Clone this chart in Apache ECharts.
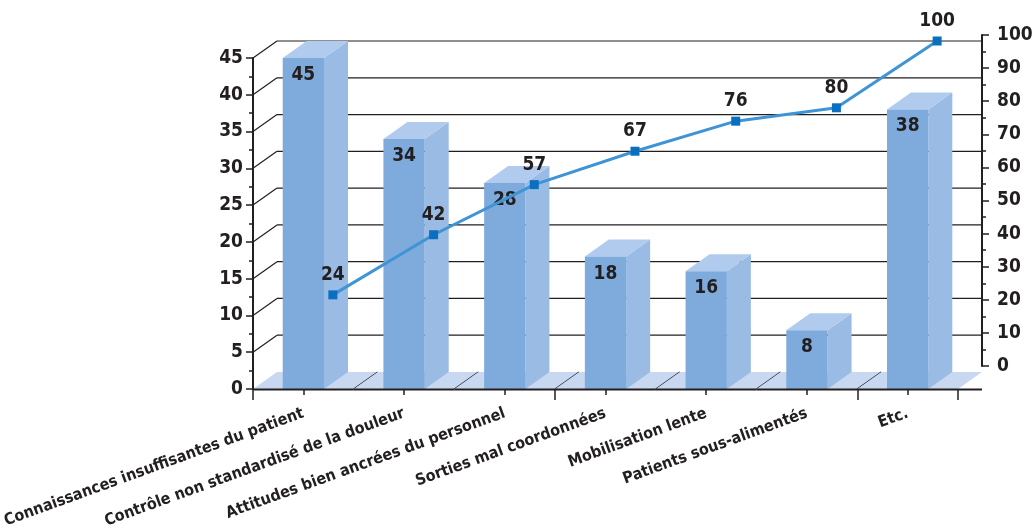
<!DOCTYPE html>
<html>
<head>
<meta charset="utf-8">
<script src="https://cdn.jsdelivr.net/npm/echarts@6/dist/echarts.min.js"></script>
<style>
html,body{margin:0;padding:0;background:#fff;}
#c{width:1032px;height:530px;}
</style>
</head>
<body>
<div id="c"></div>
<script>
const categories = [
  'Connaissances insuffisantes du patient',
  'Contrôle non standardisé de la douleur',
  'Attitudes bien ancrées du personnel',
  'Sorties mal coordonnées',
  'Mobilisation lente',
  'Patients sous-alimentés',
  'Etc.'
];
const counts = [45, 34, 28, 18, 16, 8, 38];
const cumulative = [24, 42, 57, 67, 76, 80, 100];
const leftTicks = [0, 5, 10, 15, 20, 25, 30, 35, 40, 45];
const rightTicks = [0, 10, 20, 30, 40, 50, 60, 70, 80, 90, 100];

const FONT = '"DejaVu Sans Condensed", "Liberation Sans Narrow", sans-serif';
const INK = '#231f20';
const DX = 24, DY = -17;
const FRONT = '#7eabdc', SIDE = '#99bbe4', TOP = '#b0cbee', FLOOR = '#c8d8f1';

const chart = echarts.init(document.getElementById('c'), null, {renderer: 'canvas'});

function bandW(api) { return api.size([1, 0])[0]; }

const option = {
  animation: false,
  backgroundColor: '#ffffff',
  grid: [
    {left: 253, top: 58, width: 705, height: 331, outerBoundsMode: 'none', containLabel: false},
    {left: 282.5, top: 41, width: 705, height: 334, outerBoundsMode: 'none', containLabel: false},
    {left: 253, top: 35, width: 729, height: 331, outerBoundsMode: 'none', containLabel: false}
  ],
  xAxis: [
    {
      type: 'category', gridIndex: 0, data: categories, position: 'bottom',
      axisLine: {show: false},
      axisTick: {show: true, alignWithLabel: true, length: 6, lineStyle: {color: INK, width: 1.5}},
      axisLabel: {
        interval: 0, rotate: 20, margin: 24,
        fontFamily: FONT, fontWeight: 'bold', fontSize: 16, color: INK
      },
      z: 10
    },
    {
      type: 'category', gridIndex: 0, data: categories, position: 'bottom',
      axisLine: {show: false},
      axisTick: {show: true, length: 11, lineStyle: {color: INK, width: 1.5}},
      axisLabel: {show: false},
      z: 10
    },
    {type: 'category', gridIndex: 1, data: categories, show: false},
    {type: 'value', gridIndex: 2, min: 0, max: 1, show: false}
  ],
  yAxis: [
    {
      type: 'value', gridIndex: 0, min: 0, max: leftTicks[leftTicks.length - 1], interval: 5,
      position: 'left',
      axisLine: {show: true, lineStyle: {color: INK, width: 2}},
      axisTick: {show: true, length: 7, lineStyle: {color: INK, width: 1.5}},
      minorTick: {show: true, splitNumber: 2, length: 4, lineStyle: {color: INK, width: 1.5}},
      splitLine: {show: false},
      axisLabel: {margin: 10, fontFamily: FONT, fontWeight: 'bold', fontSize: 19, color: INK},
      z: 10
    },
    {type: 'value', gridIndex: 1, min: 0, max: 100, show: false},
    {
      type: 'value', gridIndex: 2, min: 0, max: rightTicks[rightTicks.length - 1], interval: 10,
      position: 'right',
      axisLine: {show: true, onZero: false, lineStyle: {color: INK, width: 2}},
      axisTick: {show: true, length: 7, lineStyle: {color: INK, width: 1.5}},
      minorTick: {show: true, splitNumber: 2, length: 4, lineStyle: {color: INK, width: 1.5}},
      splitLine: {show: false},
      axisLabel: {margin: 15, fontFamily: FONT, fontWeight: 'bold', fontSize: 19, color: INK},
      z: 10
    }
  ],
  series: [
    {
      // back wall: gridlines and left diagonals
      type: 'custom', xAxisIndex: 0, yAxisIndex: 0, z: 1, silent: true,
      data: leftTicks.filter(v => v > 0).map(v => [0, v]),
      renderItem: function (params, api) {
        const v = api.value(1);
        const bw = bandW(api);
        const p = api.coord([0, v]);
        const l = p[0] - bw / 2;
        const r = api.coord([categories.length - 1, v])[0] + bw / 2;
        const y = p[1];
        return {
          type: 'group',
          children: [
            {type: 'line', shape: {x1: l, y1: y, x2: l + DX, y2: y + DY}, style: {stroke: INK, lineWidth: 1.2}},
            {type: 'line', shape: {x1: l + DX, y1: y + DY, x2: r + DX, y2: y + DY}, style: {stroke: INK, lineWidth: 1.2}}
          ]
        };
      }
    },
    {
      // floor
      type: 'custom', xAxisIndex: 0, yAxisIndex: 0, z: 2, silent: true,
      data: categories.map((c, i) => [i, 0]),
      renderItem: function (params, api) {
        const i = api.value(0);
        const bw = bandW(api);
        const p = api.coord([i, 0]);
        const l = p[0] - bw / 2, r = p[0] + bw / 2, y = p[1];
        const children = [
          {type: 'polygon', shape: {points: [[l, y], [r, y], [r + DX, y + DY], [l + DX, y + DY]]},
           style: {fill: FLOOR}}
        ];
        if (i < categories.length - 1) {
          children.push({type: 'line', shape: {x1: r, y1: y, x2: r + DX, y2: y + DY},
            style: {stroke: INK, lineWidth: 1.2}});
        }
        return {type: 'group', children: children};
      }
    },
    {
      // 3D bars
      type: 'custom', xAxisIndex: 0, yAxisIndex: 0, z: 3, silent: true,
      data: counts.map((v, i) => [i, v]),
      renderItem: function (params, api) {
        const i = api.value(0), v = api.value(1);
        const c = api.coord([i, v]);
        const b = api.coord([i, 0]);
        const w = bandW(api) * 0.41;
        const x0 = c[0] - w / 2, x1 = c[0] + w / 2, top = c[1], bot = b[1];
        return {
          type: 'group',
          children: [
            {type: 'polygon', shape: {points: [[x1, top], [x1 + DX, top + DY], [x1 + DX, bot + DY], [x1, bot]]},
             style: {fill: SIDE}},
            {type: 'polygon', shape: {points: [[x0, top], [x1, top], [x1 + DX, top + DY], [x0 + DX, top + DY]]},
             style: {fill: TOP}},
            {type: 'rect', shape: {x: x0, y: top, width: w, height: bot - top}, style: {fill: FRONT}},
            {type: 'text', x: c[0], y: top + 17,
             style: {text: String(v), fill: INK, font: 'bold 19px ' + FONT, align: 'center', verticalAlign: 'middle'}}
          ]
        };
      }
    },
    {
      // bottom axis line with extension to the back
      type: 'custom', xAxisIndex: 0, yAxisIndex: 0, z: 8, silent: true,
      data: categories.map((c, i) => [i, 0]),
      renderItem: function (params, api) {
        const i = api.value(0);
        const bw = bandW(api);
        const p = api.coord([i, 0]);
        const l = p[0] - bw / 2;
        const r = p[0] + bw / 2 + (i === categories.length - 1 ? DX : 0);
        return {type: 'line', shape: {x1: l, y1: p[1] + 0.5, x2: r, y2: p[1] + 0.5},
                style: {stroke: INK, lineWidth: 2}};
      }
    },
    {
      type: 'line', xAxisIndex: 2, yAxisIndex: 1, z: 6,
      data: cumulative,
      symbol: 'rect', symbolSize: 9,
      lineStyle: {color: '#3f94d6', width: 3},
      itemStyle: {color: '#0b6fbf'},
      label: {show: true, position: 'top', distance: 6,
              fontFamily: FONT, fontWeight: 'bold', fontSize: 19, color: INK}
    }
  ]
};
chart.setOption(option);
</script>
</body>
</html>
